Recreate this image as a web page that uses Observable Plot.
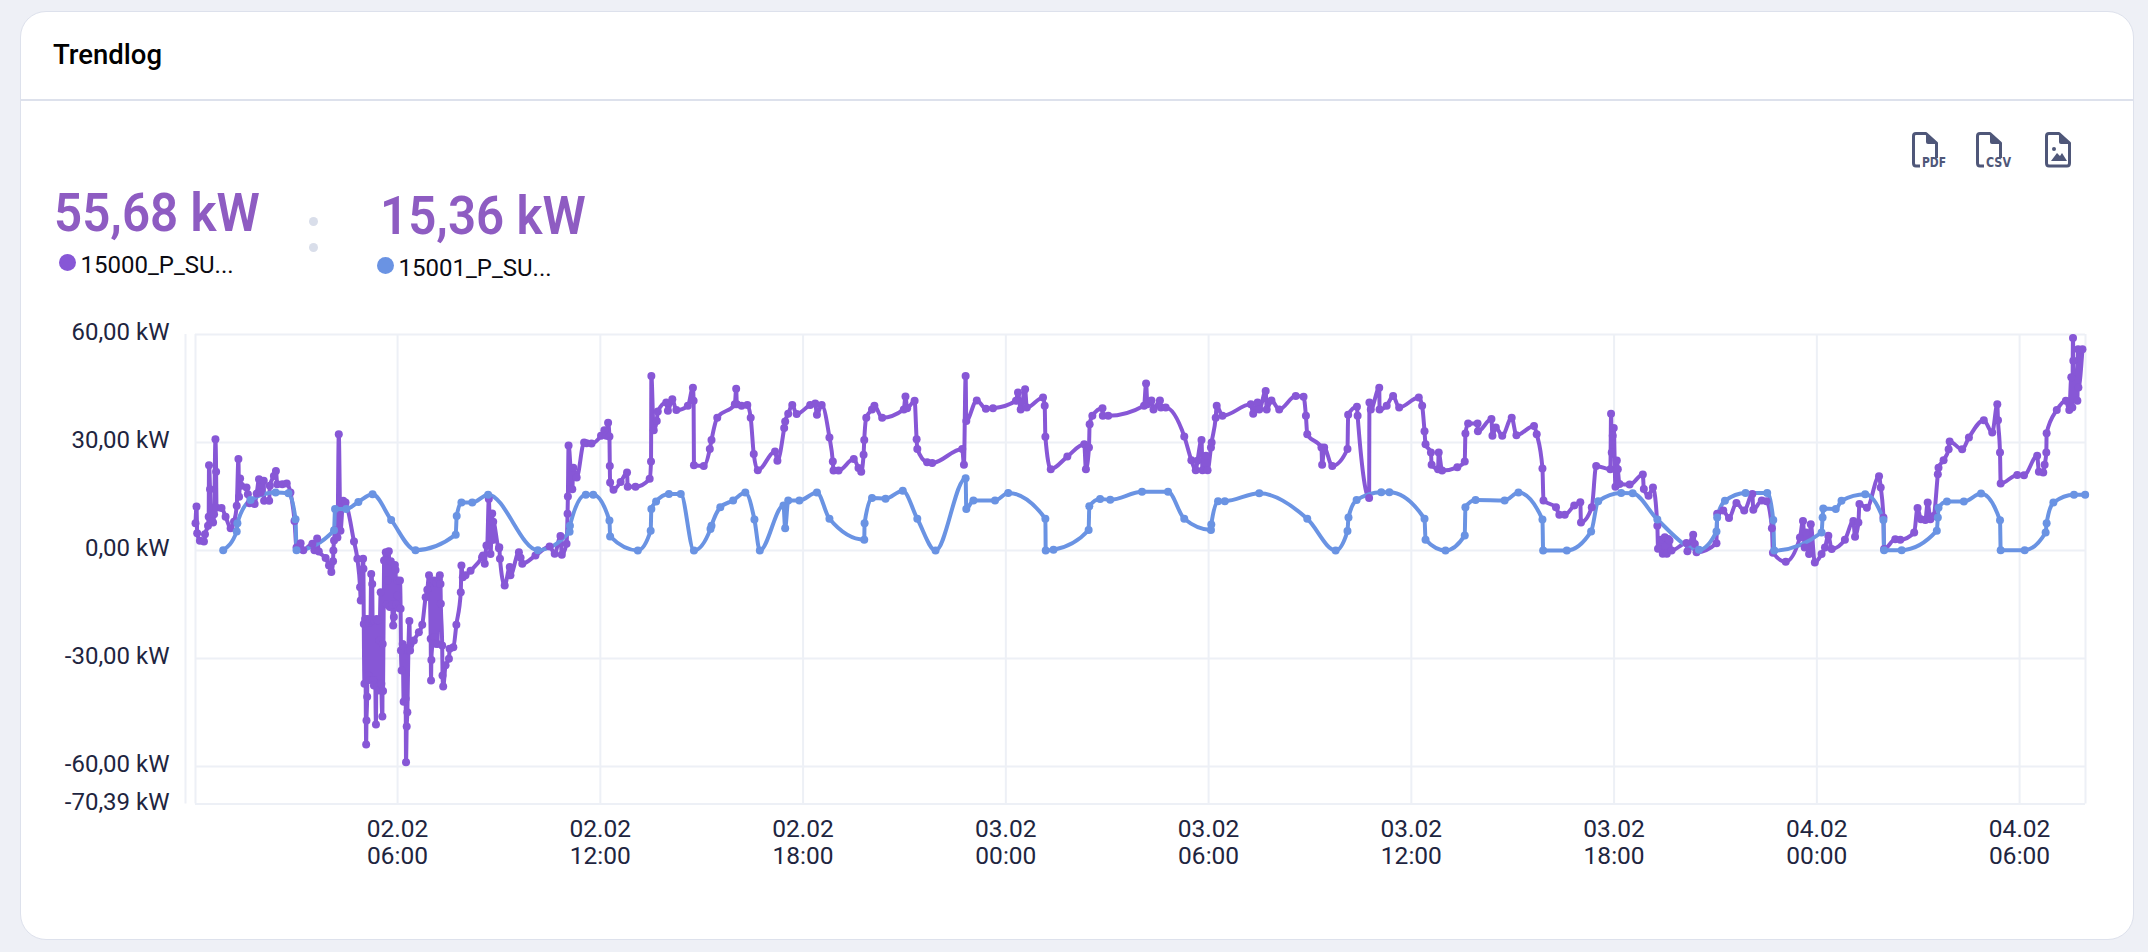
<!DOCTYPE html>
<html><head><meta charset="utf-8">
<script src="https://cdn.jsdelivr.net/npm/d3@7"></script>
<script src="https://cdn.jsdelivr.net/npm/@observablehq/plot@0.6"></script>
<style>
html,body{margin:0;padding:0;width:2148px;height:952px;overflow:hidden;background:#eef0f6;font-family:Roboto,sans-serif}
#card{position:absolute;left:20px;top:11px;width:2112px;height:927px;background:#fff;border:1.5px solid #dde1ec;border-radius:26px;box-sizing:content-box}
#rule{position:absolute;left:20px;top:99px;width:2114px;height:2px;background:#dde1ec}
.t{position:absolute;white-space:nowrap;line-height:1}
.d{position:absolute;border-radius:50%}
.big{font-size:53px;font-weight:600;color:#8e5cc2;transform:scaleX(.93);transform-origin:left center}
#chart{position:absolute;left:0;top:300px}
</style></head><body>
<div id="card"></div><div id="rule"></div>
<div class="t" style="left:53px;top:41px;font-size:27.5px;font-weight:500;color:#000">Trendlog</div>
<div class="t big" style="left:54px;top:187px">55,68 kW</div>
<div class="t big" style="left:380px;top:190px">15,36 kW</div>
<div class="d" style="left:59px;top:254px;width:17px;height:17px;background:#8757d6"></div>
<div class="t" style="left:80.500px;top:253px;font-size:24px;color:#0b0b12">15000_P_SU...</div>
<div class="d" style="left:377px;top:257px;width:17px;height:17px;background:#6a93e3"></div>
<div class="t" style="left:398.500px;top:256px;font-size:24px;color:#0b0b12">15001_P_SU...</div>
<div class="d" style="left:309px;top:217px;width:9px;height:9px;background:#d9deea"></div>
<div class="d" style="left:309px;top:243px;width:9px;height:9px;background:#d9deea"></div>

<svg style="position:absolute;left:1900px;top:125px" width="190" height="50" viewBox="0 0 190 50">
  <g fill="none" stroke="#4f5779" stroke-width="3" stroke-linejoin="round">
    <path d="M20 41H16Q13.500 41 13.500 38V11Q13.500 8.500 16 8.500H26L36.500 18V33"/>
    <path d="M84 41H80Q77.500 41 77.500 38V11Q77.500 8.500 80 8.500H90L100.500 18V33"/>
    <path d="M149 8.500H159L169.500 18V38Q169.500 41 167 41H149Q146.500 41 146.500 38V11Q146.500 8.500 149 8.500Z"/>
  </g>
  <g fill="#4f5779">
    <path d="M26 8 L37 19 H28 Q26 19 26 17Z"/>
    <path d="M90 8 L101 19 H92 Q90 19 90 17Z"/>
    <path d="M159 8 L170 19 H161 Q159 19 159 17Z"/>
    <circle cx="154" cy="24" r="2"/>
    <path d="M151 36 L157 28 L160 31 L162 28 L167 36Z"/>
    <text x="22" y="42" font-family="'DejaVu Sans',sans-serif" font-weight="700" font-size="14" textLength="24" lengthAdjust="spacingAndGlyphs">PDF</text>
    <text x="86" y="42" font-family="'DejaVu Sans',sans-serif" font-weight="700" font-size="14" textLength="25" lengthAdjust="spacingAndGlyphs">CSV</text>
  </g>
</svg>
<div id="chart"></div>
<script>
// hours counted from 02.02 00:00, power in kW
const series15000 = [[.02,7.6],[.05,12.2],[.07,4.8],[.15,2.7],[.27,2.5],[.3,4.5],[.39,6.9],[.41,9.4],[.42,23.7],[.45,17],[.47,8.2],[.54,7.8],[.57,10.1],[.61,30.9],[.63,21.9],[.64,11.9],[.79,11.8],[.91,9.4],[1.06,6.2],[1.16,8],[1.24,12.4],[1.29,25.4],[1.31,14.9],[1.34,20],[1.37,18],[1.53,17.5],[1.57,15.6],[1.62,13.1],[1.77,12.9],[1.83,15.8],[1.9,19.8],[1.95,16.1],[2.04,19.4],[2.05,13.8],[2.2,13.8],[2.22,18],[2.34,20.7],[2.4,22.1],[2.44,18.4],[2.59,18.4],[2.72,18.6],[2.83,16.1],[2.95,8.2],[3.01,.8],[3.13,2],[3.21,.1],[3.48,1.9],[3.54,.1],[3.62,3.3],[3.67,-.3],[3.87,-2.1],[3.97,-4.2],[4.04,-6],[4.09,-3],[4.1,0],[4.12,2.8],[4.15,5.6],[4.22,3.6],[4.26,32.3],[4.31,5.5],[4.39,13.8],[4.46,13.3],[4.71,2.5],[4.81,-2.3],[4.89,-10.2],[4.91,-13.9],[4.98,-2.3],[4.99,-5.1],[5,-20.4],[5.02,-37],[5.04,-19],[5.07,-53.9],[5.08,-47.2],[5.1,-40.6],[5.12,-19],[5.14,-34.7],[5.16,-20],[5.18,-36],[5.2,-19.5],[5.22,-6.5],[5.25,-9.3],[5.26,-19.4],[5.28,-36],[5.3,-37.5],[5.32,-19.5],[5.36,-48.3],[5.38,-19],[5.4,-38],[5.42,-19.4],[5.45,-38.9],[5.47,-25],[5.5,-11.6],[5.52,-37],[5.55,-46.1],[5.56,-26],[5.57,-39],[5.6,-2.8],[5.65,-.5],[5.68,-15],[5.71,-8.3],[5.74,-.2],[5.77,-15.7],[5.8,-3],[5.84,-15],[5.87,-20.8],[5.89,-18.5],[5.92,-4],[5.94,-5.4],[5.96,-15],[5.99,-8.3],[6,-12.5],[6.03,-16],[6.07,-8.3],[6.09,-16.2],[6.1,-27.8],[6.12,-33.3],[6.15,-26],[6.18,-42],[6.21,-27],[6.24,-41.2],[6.25,-58.8],[6.27,-48.9],[6.29,-44.9],[6.32,-27.8],[6.35,-19.6],[6.37,-27.8],[6.48,-25],[6.63,-22.7],[6.73,-20.6],[6.83,-13],[6.88,-10.9],[6.93,-6.9],[6.98,-24.5],[6.99,-36.1],[7,-30.4],[7.03,-25],[7.05,-9],[7.07,-8.3],[7.09,-24],[7.12,-25.9],[7.15,-9],[7.18,-26],[7.22,-8],[7.25,-6.9],[7.27,-9.3],[7.28,-14.8],[7.32,-26.4],[7.33,-34.7],[7.35,-37.8],[7.42,-31.9],[7.52,-30.1],[7.54,-27.3],[7.65,-26.9],[7.74,-20.6],[7.87,-11.6],[7.89,-4.2],[7.93,-7.4],[8.01,-6.9],[8.16,-5.6],[8.5,-1.9],[8.53,-1.4],[8.58,-3.7],[8.63,1.4],[8.65,1.3],[8.7,14.3],[8.75,-1],[8.8,10.3],[8.81,2.9],[8.83,8],[9,.6],[9.01,.9],[9.03,-2.3],[9.17,-9.7],[9.32,-4.6],[9.34,-6.9],[9.59,-.5],[9.64,-2],[9.69,-3.7],[10.08,-1.4],[10.5,1.1],[10.65,-.9],[10.82,4],[10.86,-1.2],[11,1.9],[11.03,10.2],[11.04,15],[11.06,29.2],[11.17,17],[11.2,23],[11.3,20.3],[11.52,30],[11.59,29.8],[11.74,29.7],[12.02,31.9],[12.12,33.4],[12.18,31.9],[12.23,35.5],[12.27,31.7],[12.28,23.5],[12.29,18.9],[12.39,16.9],[12.6,19],[12.79,21.7],[12.81,17.7],[13.04,17.7],[13.46,19.9],[13.5,24.7],[13.51,48.5],[13.58,33.4],[13.67,36],[13.7,38.6],[13.95,41.1],[14,38.8],[14.13,42],[14.25,39],[14.59,40.2],[14.74,45.2],[14.76,41.6],[14.77,23.7],[15.06,23.5],[15.24,28.2],[15.29,30.7],[15.46,36.9],[15.98,40.6],[16.02,44.9],[16.04,40.6],[16.18,40.2],[16.35,40.4],[16.45,36.9],[16.54,26.8],[16.66,22.3],[17.17,27.5],[17.24,24.9],[17.44,34],[17.47,35.8],[17.56,38],[17.68,40.4],[17.81,37.9],[18.21,40.4],[18.36,40.8],[18.41,37.7],[18.55,40.4],[18.78,31.4],[18.88,24.7],[18.9,22.2],[19.05,22.2],[19.5,25.4],[19.64,22.9],[19.72,21.9],[19.79,26.6],[19.81,30.7],[19.87,36.9],[20.04,39.2],[20.11,40.2],[20.34,36.9],[20.98,39.2],[21.03,42.8],[21.08,39.5],[21.3,41.6],[21.36,30.9],[21.38,28.2],[21.67,24.5],[21.82,24.3],[22.71,28.2],[22.76,23.8],[22.81,48.5],[22.83,36],[23.14,41.7],[23.41,39.4],[23.62,39.5],[24.3,41.6],[24.36,43.9],[24.44,39.2],[24.57,44.8],[24.62,39.7],[25.1,42.5],[25.15,40.2],[25.17,31.6],[25.33,22.6],[25.82,26.1],[26.32,29.5],[26.37,22.6],[26.46,28.6],[26.48,35.1],[26.56,37.4],[26.86,39.5],[26.87,37.4],[27.03,37.4],[28.09,40.2],[28.15,46.4],[28.19,40.6],[28.31,41.7],[28.37,39.2],[28.56,41.7],[28.59,39.7],[28.73,39.7],[29.28,31.7],[29.49,25.1],[29.62,22.3],[29.67,24.9],[29.79,30.7],[29.82,22.3],[29.92,26.3],[29.97,22.3],[30.07,28.6],[30.09,30],[30.21,36.9],[30.24,40.2],[30.41,37.4],[31.25,40.6],[31.32,38],[31.45,41.1],[31.5,39.2],[31.69,44.3],[31.72,39.2],[31.86,41.7],[32.09,39.2],[32.58,42.9],[32.81,42.7],[32.88,37.4],[32.92,32.3],[33.34,28.6],[33.36,23.8],[33.42,28.6],[33.66,23.5],[34.11,28.2],[34.13,37.7],[34.39,39.9],[34.41,37.4],[34.75,14.6],[34.76,41.1],[34.8,39.2],[35.05,45.2],[35.06,39.2],[35.27,40.2],[35.46,42.9],[35.64,39.7],[36.22,42.5],[36.32,40.2],[36.39,33.1],[36.42,29.5],[36.58,27.2],[36.6,23.8],[36.79,22.6],[36.81,27.2],[36.91,22.2],[37.36,23.1],[37.58,24.7],[37.6,32.5],[37.68,35.3],[37.96,35.3],[37.97,33.1],[38.37,36.5],[38.4,31.9],[38.5,34.2],[38.69,31.9],[38.97,36.9],[39.11,32],[39.63,34.6],[39.71,32.3],[39.88,22.8],[39.91,13.9],[40.28,12],[40.38,9.9],[40.54,9.9],[40.82,12.5],[41,13.4],[41.02,7.8],[41.34,12],[41.47,23.5],[41.89,22.6],[41.91,38],[41.93,27.2],[41.96,31.9],[41.99,34],[42.04,17.7],[42.08,25],[42.11,22.6],[42.16,18.5],[42.46,18.3],[42.85,21.1],[42.88,17.1],[43.02,15.2],[43.15,17.5],[43.28,6.9],[43.3,.5],[43.38,3],[43.44,-.9],[43.5,3.7],[43.56,-.9],[43.6,3.2],[43.64,2.8],[43.7,0],[44.14,2.1],[44.17,-.2],[44.34,4.4],[44.39,1.8],[44.44,-.5],[45.03,2],[45.05,10.2],[45.23,11.1],[45.4,9],[45.62,13.2],[45.85,11.1],[46.09,15.7],[46.12,11.3],[46.37,13.9],[46.51,13.7],[46.67,6.2],[46.7,-.6],[47.08,-3.1],[47.5,3.6],[47.59,8.2],[47.64,.8],[47.68,5],[47.77,-1],[47.82,7.3],[47.94,-3.3],[48.14,-1],[48.24,.8],[48.34,4.1],[48.44,.4],[48.83,3],[49.08,8.2],[49.13,3.8],[49.23,7.8],[49.26,12.9],[49.48,11.9],[49.84,20.6],[49.89,17.5],[49.97,9.2],[49.99,.4],[50.32,3.1],[50.47,3],[50.88,5],[50.98,11.8],[51.08,8.7],[51.21,8.5],[51.28,13.3],[51.36,8.7],[51.46,9.6],[51.58,21.2],[51.6,23],[51.75,25.1],[51.9,28.1],[51.93,30.3],[52.3,28.1],[52.5,31.4],[52.94,36.2],[53.19,32.8],[53.34,40.6],[53.36,36.2],[53.42,27.2],[53.44,18.6],[53.93,21],[54.13,20.9],[54.52,26.3],[54.57,21.9],[54.7,21.7],[54.74,23.8],[54.79,27.2],[54.8,32.6],[55.1,39],[55.37,41.6],[55.47,39],[55.53,48.1],[55.56,39.7],[55.58,59],[55.59,52.7],[55.71,41.6],[55.73,55.9],[55.74,45.3],[55.86,55.9]];
const series15001 = [[.84,.1],[1.24,5.3],[1.26,7.6],[1.65,14],[2.39,16.1],[2.77,15.9],[2.98,8.7],[3.01,.1],[4.12,5.6],[4.15,11.5],[4.48,11.5],[4.84,13.5],[5.26,15.6],[5.81,8.5],[6.53,.1],[7.72,4.4],[7.75,9.6],[7.89,13.3],[8.21,13.3],[8.68,15.5],[10.15,.1],[11.09,5.2],[11.1,6.9],[11.57,15.5],[11.79,15.5],[12.27,8.3],[12.29,3.9],[13.11,0],[13.49,5.5],[13.51,11.5],[13.65,13.6],[14.03,15.7],[14.38,15.7],[14.77,0],[15.26,6],[15.29,6.9],[15.55,12],[15.93,13.9],[16.29,16.1],[16.56,8.6],[16.72,0],[17.42,12.5],[17.47,6.2],[17.56,13.9],[17.89,13.9],[18.41,16.1],[18.78,8.8],[19.81,3],[19.82,7.6],[20.04,14.6],[20.44,14.4],[20.95,16.6],[21.38,8.8],[21.92,0],[22.81,20.1],[22.83,11.5],[23.04,13.9],[23.68,13.9],[24.07,16],[25.17,8.8],[25.18,0],[25.41,.2],[26.45,5.7],[26.47,12.3],[26.79,14.3],[27.09,14.1],[28.03,16.3],[28.8,16.3],[29.28,8.8],[30.07,5.7],[30.08,7.2],[30.28,13.7],[30.48,13.7],[31.5,15.9],[32.92,8.8],[33.76,0],[34.11,5.4],[34.14,9.2],[34.38,14],[35.11,16.2],[35.35,16.2],[36.39,8.8],[36.42,3],[37.01,0],[37.58,4.2],[37.6,12],[37.9,14],[38.76,13.9],[39.17,16.1],[39.88,8.6],[39.9,0],[40.6,0],[41.32,5.3],[41.53,13.7],[42.21,16],[42.55,15.9],[43.28,8.6],[44.51,.2],[45.03,5.3],[45.05,9.2],[45.28,13.8],[45.89,16],[46.53,16],[46.71,8.5],[46.74,0],[48.14,5],[48.17,9.2],[48.19,11.7],[48.56,11.5],[48.73,13.8],[49.43,15.6],[49.97,8.5],[49.99,.1],[50.51,.1],[51.55,5.5],[51.58,9.2],[51.6,11.9],[51.85,13.6],[52.35,13.6],[52.86,15.8],[53.42,8.4],[53.44,.1],[54.15,.1],[54.77,5],[54.8,7.6],[55,13.3],[55.61,15.5],[55.94,15.5]];
const yTicks = [-70.39,-60,-30,0,30,60];
const yGrid = [-70.39,-60,-30,0,30,60];
const xTickHours = [6,12,18,24,30,36,42,48,54];
const domainHours = [0.02,55.95];
const startTime = Date.UTC(2024,1,2);
const purple="#8757d6", blue="#6a93e3", grid="#edf0f6", ink="#1e2540";

const toDate = h => new Date(startTime + h*3600000);
const rows = a => a.map(([h,v]) => ({t:toDate(h), v}));
const p = rows(series15000), b = rows(series15001);
const fmtY = d => d.toFixed(2).replace(".",",")+" kW";
const fmtX = d3.utcFormat("%d.%m\n%H:%M");

const chart = Plot.plot({
  width:2148, height:600,
  marginLeft:195, marginRight:63, marginTop:34, marginBottom:96.6,
  style:{background:"transparent",overflow:"visible",fontFamily:"Roboto"},
  x:{type:"utc",domain:domainHours.map(toDate)},
  y:{domain:[-70.39,60]},
  marks:[
    Plot.ruleY(yGrid,{stroke:grid,strokeWidth:2}),
    Plot.ruleX(xTickHours.concat(domainHours).map(toDate),{stroke:grid,strokeWidth:2}),
    Plot.ruleX([toDate(domainHours[0])],{dx:-10,stroke:grid,strokeWidth:2}),
    Plot.axisY({ticks:yTicks,tickFormat:fmtY,tickSize:0,tickPadding:26,fontSize:24,fill:ink,dy:-2,label:null}),
    Plot.axisX({ticks:xTickHours.map(toDate),tickFormat:fmtX,tickSize:0,tickPadding:14,fontSize:24.5,fill:ink,lineHeight:1.1,label:null}),
    Plot.line(p,{x:"t",y:"v",stroke:purple,strokeWidth:4,curve:"monotone-x"}),
    Plot.line(b,{x:"t",y:"v",stroke:blue,strokeWidth:4,curve:"monotone-x"}),
    Plot.dot(p,{x:"t",y:"v",r:4,fill:purple}),
    Plot.dot(b,{x:"t",y:"v",r:4,fill:blue})
  ]
});
document.getElementById("chart").appendChild(chart);
</script>
</body></html>
